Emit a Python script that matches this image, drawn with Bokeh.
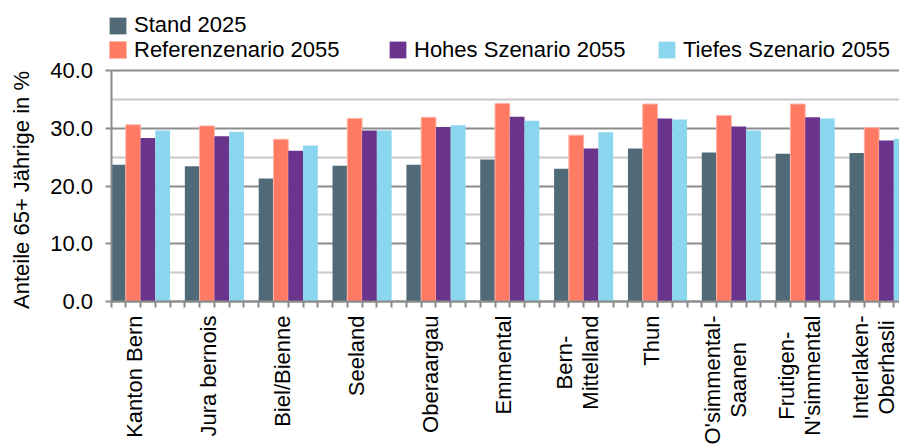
import math
from bokeh.plotting import figure
from bokeh.models import (ColumnDataSource, Range1d, FixedTicker, NumeralTickFormatter,
                          Legend, LegendItem, Label, LinearAxis)
from bokeh.embed import file_html
from bokeh.resources import INLINE

# ---- data ----
regions = ["Kanton Bern", "Jura bernois", "Biel/Bienne", "Seeland", "Oberaargau", "Emmental",
           "Bern-\nMittelland", "Thun", "O'simmental-\nSaanen", "Frutigen-\nN'simmental",
           "Interlaken-\nOberhasli"]
stand_2025 = [23.7, 23.4, 21.3, 23.5, 23.7, 24.6, 23.0, 26.5, 25.8, 25.6, 25.7]
referenz_2055 = [30.6, 30.4, 28.1, 31.7, 31.9, 34.3, 28.8, 34.2, 32.2, 34.2, 30.1]
hohes_2055 = [28.3, 28.6, 26.1, 29.6, 30.2, 32.0, 26.5, 31.7, 30.3, 31.9, 27.9]
tiefes_2055 = [29.6, 29.4, 27.0, 29.6, 30.5, 31.3, 29.3, 31.5, 29.6, 31.7, 28.2]
series_names = ["Stand 2025", "Referenzenario 2055", "Hohes Szenario 2055", "Tiefes Szenario 2055"]
y_title = "Anteile 65+ Jährige in %"
y_ticks = [0, 10, 20, 30, 40]
y_minor = [5, 15, 25, 35]

colors = ["#506a78", "#ff7a63", "#6a348c", "#8ad6ee"]
FONT = "Liberation Sans"
FS = 22
GRID = "#8c8c8c"

SLOT = 5  # 4 bars + 1 gap per region
n = len(regions)

W, H = 899, 444
X0_PAGE = 110.5            # page x of the value axis
Y0_PAGE = 301              # page y of the 0-line
Y_PX = 231 / 40.0          # pixels per percentage point
X_PX = 14.77               # pixels per bar width

# the frame covers the whole canvas; axes are pinned inside it
p = figure(width=W, height=H, output_backend="svg", toolbar_location=None,
           x_range=Range1d(-X0_PAGE / X_PX, (W - X0_PAGE) / X_PX),
           y_range=Range1d(-(H - Y0_PAGE) / Y_PX, Y0_PAGE / Y_PX),
           x_axis_location=None, y_axis_location=None,
           min_border_left=0, min_border_right=0, min_border_top=0, min_border_bottom=0)
p.outline_line_color = None
p.background_fill_color = "white"

# grid (only across the plot area)
p.xgrid.visible = False
p.ygrid.ticker = FixedTicker(ticks=y_ticks, minor_ticks=y_minor)
p.ygrid.cross_bounds = (0, SLOT * n + 5)
p.ygrid.grid_line_color = GRID
p.ygrid.grid_line_width = 2
p.ygrid.minor_grid_line_color = "#c8c8c8"
p.ygrid.minor_grid_line_width = 2

renderers = []
all_series = [stand_2025, referenz_2055, hohes_2055, tiefes_2055]
for k, vals in enumerate(all_series):
    xs = [i * SLOT + k + 0.5 for i in range(n)]
    src = ColumnDataSource(dict(x=xs, top=vals))
    r = p.vbar(x="x", top="top", width=1.0, source=src, fill_color=colors[k],
               line_color="#ffb3a6" if k == 1 else None, line_width=1)
    renderers.append(r)

# y axis pinned at x = 0
yax = LinearAxis(fixed_location=0, bounds=(0, 40),
                 ticker=FixedTicker(ticks=y_ticks, minor_ticks=y_minor),
                 formatter=NumeralTickFormatter(format="0.0"),
                 major_label_text_font=FONT, major_label_text_font_size=f"{FS}px",
                 major_label_text_color="black", major_label_standoff=12,
                 major_tick_out=6, major_tick_in=0, minor_tick_out=0, minor_tick_in=0,
                 axis_line_color=GRID, axis_line_width=2,
                 major_tick_line_color=GRID, major_tick_line_width=2)
p.add_layout(yax, "left")

# x axis pinned at y = 0: a tick at every bar boundary, no tick labels
xax = LinearAxis(fixed_location=0, bounds=(0, 60),
                 ticker=FixedTicker(ticks=[], minor_ticks=list(range(0, 60))),
                 minor_tick_out=6, minor_tick_in=0, major_tick_out=0, major_tick_in=0,
                 axis_line_color=GRID, axis_line_width=2,
                 minor_tick_line_color=GRID, minor_tick_line_width=2)
p.add_layout(xax, "below")

# y axis title
p.add_layout(Label(x=-X0_PAGE / X_PX, y=20, x_offset=21, y_offset=-4, text=y_title,
                   angle=math.pi / 2, text_align="center", text_baseline="middle",
                   text_font=FONT, text_font_size=f"{FS}px", text_color="black"))

# category labels (rotated)
ARIAL = dict(zip("ABCDEFGHIJKLMNOPQRSTUVWXYZ",
                 [667, 667, 722, 722, 667, 611, 778, 722, 278, 500, 667, 556, 833, 722, 778, 667,
                  778, 722, 667, 611, 722, 667, 944, 667, 667, 611]))
ARIAL.update(dict(zip("abcdefghijklmnopqrstuvwxyz",
                      [556, 556, 500, 556, 556, 278, 556, 556, 222, 222, 500, 222, 833, 556, 556,
                       556, 556, 333, 500, 278, 556, 500, 722, 500, 500, 500])))
ARIAL.update({"'": 191, "-": 333, "/": 278, " ": 278})


def text_px(s):
    return sum(ARIAL.get(c, 556) for c in s) * FS / 1000.0


for i, name in enumerate(regions):
    xc = i * SLOT + 1.6
    lines = name.split("\n")
    if len(lines) == 1:
        p.add_layout(Label(x=xc, y=0, y_offset=-14, text=name, angle=math.pi / 2,
                           text_align="right", text_baseline="middle",
                           text_font=FONT, text_font_size=f"{FS}px", text_color="black"))
    else:
        longest = max(text_px(s) for s in lines)
        offs = [-13, 13]
        for j, s in enumerate(lines):
            p.add_layout(Label(x=xc, y=0, text=s, angle=math.pi / 2,
                               x_offset=offs[j], y_offset=-14 - longest / 2,
                               text_align="center", text_baseline="middle",
                               text_font=FONT, text_font_size=f"{FS}px", text_color="black"))

# legends (Excel-like wrapped layout); location = (x, y) of bottom-left from canvas bottom-left
leg_pos = [(107, H - 38), (107, H - 62.5), (387, H - 62.5), (656, H - 62.5)]
for k in range(4):
    lg = Legend(items=[LegendItem(label=series_names[k], renderers=[renderers[k]])],
                location=leg_pos[k], orientation="horizontal",
                padding=0, margin=0, spacing=0, border_line_color=None,
                background_fill_alpha=0, glyph_width=21, glyph_height=21, label_standoff=6,
                label_text_font=FONT, label_text_font_size=f"{FS}px", label_text_color="black")
    p.add_layout(lg, "center")

open("out.html", "w").write(file_html(p, INLINE))
